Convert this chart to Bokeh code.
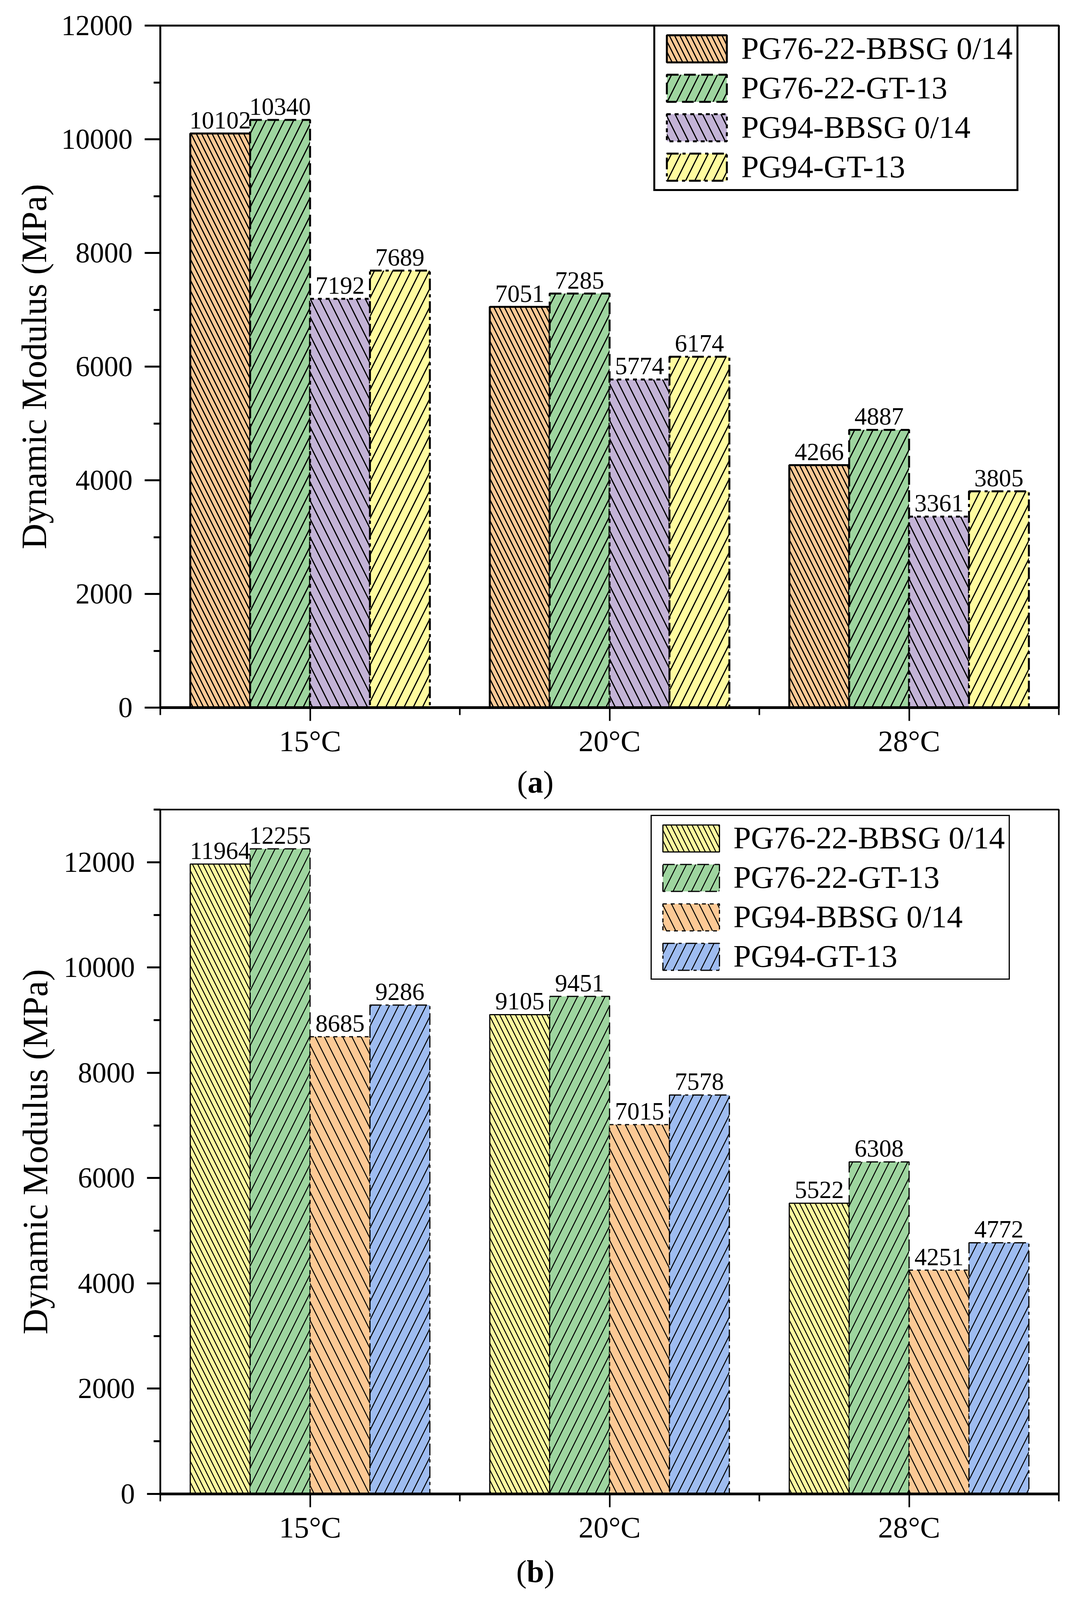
from bokeh.plotting import figure
from bokeh.models import (ColumnDataSource, FixedTicker, SingleIntervalTicker, Range1d,
                          Legend, LegendItem, LabelSet, Div)
from bokeh.transform import dodge
from bokeh.layouts import column
from bokeh.embed import file_html
from bokeh.resources import INLINE

# ---------------- data ----------------
temps = ["15°C", "20°C", "28°C"]
series_names = ["PG76-22-BBSG 0/14", "PG76-22-GT-13", "PG94-BBSG 0/14", "PG94-GT-13"]

# chart (a)
a_pg76_bbsg = [10102, 7051, 4266]
a_pg76_gt = [10340, 7285, 4887]
a_pg94_bbsg = [7192, 5774, 3361]
a_pg94_gt = [7689, 6174, 3805]

# chart (b)
b_pg76_bbsg = [11964, 9105, 5522]
b_pg76_gt = [12255, 9451, 6308]
b_pg94_bbsg = [8685, 7015, 4251]
b_pg94_gt = [9286, 7578, 4772]

colors_a = ["#FCC995", "#9ED59F", "#C3B3D6", "#FFFB9F"]
colors_b = ["#FFFB9F", "#9ED59F", "#FCC995", "#9EBCF0"]

FONT = "Liberation Serif"
W = 2742

dashes = ["solid", "30 14", "10 10", "30 10 8 10"]
hatches = ["left_diagonal_line", "right_diagonal_line", "left_diagonal_line", "right_diagonal_line"]
hscales = [27, 47, 47, 47]
offsets = [-0.3, -0.1, 0.1, 0.3]


def make_chart(series, colors, height, ymax, borders, bar_lw, hatch_w, legend_cfg, ticks_cfg):
    bl, br, bt, bb = borders
    x_pos = list(range(1, len(temps) + 1))
    p = figure(width=W, height=height, output_backend="svg", toolbar_location=None,
               x_range=Range1d(0.5, len(temps) + 0.5), y_range=Range1d(0, ymax),
               min_border_left=bl, min_border_right=br, min_border_top=bt, min_border_bottom=bb)
    p.background_fill_color = "white"
    p.border_fill_color = "white"
    p.xgrid.visible = False
    p.ygrid.visible = False
    p.outline_line_color = "black"
    p.outline_line_width = ticks_cfg["outline"]
    p.outline_line_alpha = 1.0

    items = []
    for i, (name, vals) in enumerate(zip(series_names, series)):
        src = ColumnDataSource(dict(x=x_pos, y=vals, t=[str(v) for v in vals]))
        r = p.vbar(x=dodge("x", offsets[i]), top="y", bottom=0, width=0.2, source=src,
                   fill_color=colors[i], line_color="black", line_width=bar_lw,
                   line_dash=dashes[i], hatch_pattern=hatches[i], hatch_scale=hscales[i],
                   hatch_weight=hatch_w, hatch_color="black")
        items.append(LegendItem(label=name, renderers=[r]))
        labels = LabelSet(x=dodge("x", offsets[i]), y="y", text="t", source=src,
                          text_align="center", text_baseline="bottom", y_offset=13,
                          text_font=FONT, text_font_size="63px", text_color="black")
        p.add_layout(labels)

    # axes
    xa = p.xaxis[0]
    xa.ticker = FixedTicker(ticks=x_pos, minor_ticks=[x - 0.5 for x in x_pos] + [x_pos[-1] + 0.5])
    xa.major_label_overrides = {x: t for x, t in zip(x_pos, temps)}
    xa.axis_line_width = ticks_cfg["xaxis_lw"]
    xa.axis_line_color = "black"
    xa.major_tick_out = 34
    xa.major_tick_in = 0
    xa.minor_tick_out = 19
    xa.minor_tick_in = 0
    xa.major_tick_line_width = 4
    xa.minor_tick_line_width = 4
    xa.major_tick_line_color = "black"
    xa.minor_tick_line_color = "black"
    xa.major_label_text_font = FONT
    xa.major_label_text_font_size = "77px"
    xa.major_label_text_color = "black"
    xa.major_label_standoff = ticks_cfg["xstand"]

    ya = p.yaxis[0]
    ya.ticker = SingleIntervalTicker(interval=2000, num_minor_ticks=2)
    ya.axis_line_width = ticks_cfg["outline"]
    ya.axis_line_color = "black"
    ya.major_tick_out = ticks_cfg["ytick"]
    ya.major_tick_in = 0
    ya.minor_tick_out = 17
    ya.minor_tick_in = 0
    ya.major_tick_line_width = 5
    ya.minor_tick_line_width = 5
    ya.major_tick_line_color = "black"
    ya.minor_tick_line_color = "black"
    ya.major_label_text_font = FONT
    ya.major_label_text_font_size = "73px"
    ya.major_label_text_color = "black"
    ya.major_label_standoff = 31
    ya.axis_label = "Dynamic Modulus (MPa)"
    ya.axis_label_text_font = FONT
    ya.axis_label_text_font_size = "91px"
    ya.axis_label_text_font_style = "normal"
    ya.axis_label_text_color = "black"
    ya.axis_label_standoff = ticks_cfg["ylabstand"]

    lx, ly, gw, gh, lbw = legend_cfg
    leg = Legend(items=items, location=(lx, ly), glyph_width=gw, glyph_height=gh,
                 label_text_font=FONT, label_text_font_size="81px", label_text_color="black",
                 label_height=gh, label_standoff=18, spacing=8, padding=10, margin=0,
                 border_line_color="black", border_line_width=lbw, border_line_alpha=1.0,
                 background_fill_color="white", background_fill_alpha=1.0)
    p.add_layout(leg)
    return p


def tag_div(letter, height, line_h):
    return Div(text=f"(<b>{letter}</b>)", width=W, height=height, margin=0,
               styles={"text-align": "center", "font-family": FONT, "font-size": "80px",
                       "line-height": f"{line_h}px", "color": "black", "width": f"{W}px"})


# page layout (visible height ~4100): p1 8..1950, tag a 1950..2060, p2 2060..3965, tag b 3965..4090
p1 = make_chart([a_pg76_bbsg, a_pg76_gt, a_pg94_bbsg, a_pg94_gt], colors_a,
                height=1942, ymax=12000, borders=(402, 26, 65, 123),
                bar_lw=5, hatch_w=3,
                legend_cfg=(1263, 1322, 192, 87, 5),
                ticks_cfg=dict(outline=5, xaxis_lw=7, ytick=40, xstand=8, ylabstand=16))

p2 = make_chart([b_pg76_bbsg, b_pg76_gt, b_pg94_bbsg, b_pg94_gt], colors_b,
                height=1905, ymax=13000, borders=(410, 31, 20, 133),
                bar_lw=3, hatch_w=2.5,
                legend_cfg=(1256, 1316, 181, 86, 3),
                ticks_cfg=dict(outline=4, xaxis_lw=7, ytick=34, xstand=8, ylabstand=19))

layout = column(p1, tag_div("a", 110, 120), p2, tag_div("b", 125, 132), spacing=0)
open("out.html", "w").write(file_html(layout, INLINE))
